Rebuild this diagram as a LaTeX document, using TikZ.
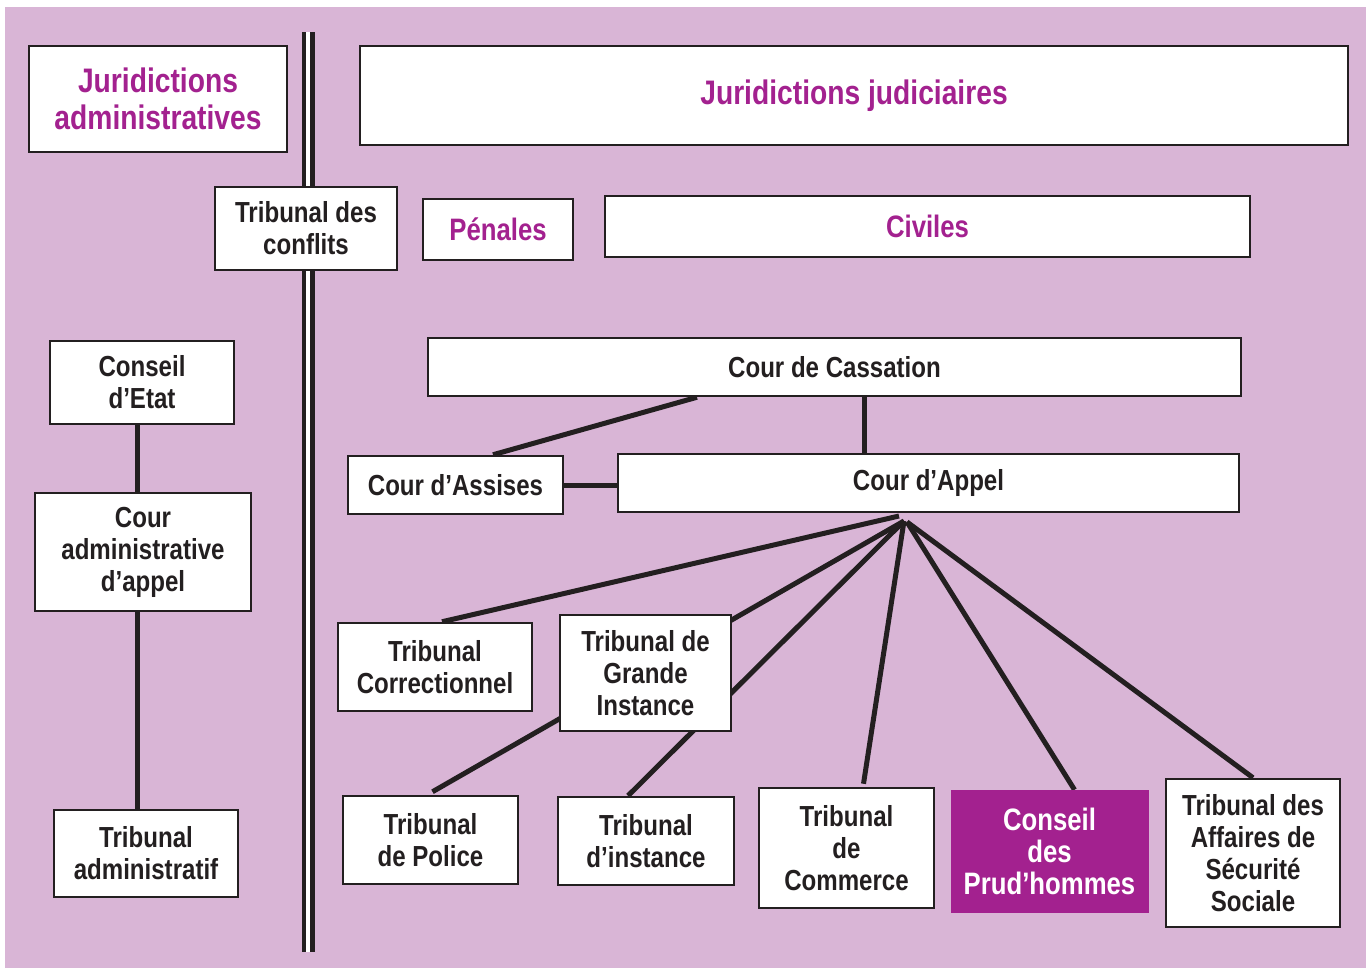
\documentclass[tikz,border=0pt]{standalone}
\usepackage{fontspec}
\newfontfamily\nar{Liberation Sans}[FakeStretch=0.83]
\definecolor{bgpurple}{RGB}{217,181,214}
\definecolor{mag}{RGB}{163,33,143}
\definecolor{ink}{RGB}{35,31,32}
\pgfdeclarelayer{bg}
\pgfdeclarelayer{lines}
\pgfsetlayers{bg,lines,main}
\tikzset{
  box/.style={draw=ink, fill=white, line width=2.5pt, align=center, inner sep=0pt,
    font=\nar\bfseries\fontsize{29}{32}\selectfont, text=ink},
  titlebox/.style={box, text=mag, font=\nar\bfseries\fontsize{34}{37}\selectfont},
  subbox/.style={box, text=mag, font=\nar\bfseries\fontsize{31}{34}\selectfont},
  hotbox/.style={box, draw=mag, fill=mag, text=white, line width=0.5pt,
    font=\nar\bfseries\fontsize{31}{32}\selectfont},
  link/.style={draw=ink, line width=5pt},
}
\newcommand{\bx}[6]{\node[#1, minimum width=#4pt, minimum height=#5pt] (#2) at (#3) {#6};}
\begin{document}
\begin{tikzpicture}[x=1pt,y=-1pt]
\useasboundingbox (0,0) rectangle (1366,969);
\begin{pgfonlayer}{bg}
  \fill[bgpurple] (5,7) rectangle (1366,968);
  \coordinate (sepT) at (308.5,32);
  \coordinate (sepB) at (308.5,952);
  \draw[ink, line width=13pt] (sepT) -- (sepB);
  \draw[white, line width=3.5pt] ([xshift=-0.3pt]sepT) -- ([xshift=-0.3pt]sepB);
\end{pgfonlayer}

% nodes
\bx{titlebox}{jadm}{158,99}{258}{106}{Juridictions\\administratives}
\bx{titlebox}{jjud}{854,95.5}{988}{99}{Juridictions judiciaires}
\bx{box}{conflits}{306,228.5}{182}{83}{Tribunal des\\conflits}
\bx{subbox}{penales}{498,229.5}{150}{61}{Pénales}
\bx{subbox}{civiles}{927.5,226.5}{645}{61}{Civiles}
\bx{box}{etat}{142,382.5}{184}{83}{Conseil\\d’Etat}
\bx{box}{caa}{143,552}{216}{118}{Cour\\administrative\\d’appel}
\bx{box}{ta}{146,853.5}{184}{87}{Tribunal\\administratif}
\bx{box}{cass}{834.5,367}{813}{58}{Cour de Cassation}
\bx{box}{assises}{455.5,485}{215}{58}{Cour d’Assises}
\bx{box}{appel}{928.5,483}{621}{58}{Cour d’Appel}
\bx{box}{corr}{435,667}{194}{88}{Tribunal\\Correctionnel}
\bx{box}{tgi}{645.5,673}{171}{116}{Tribunal de\\Grande\\Instance}
\bx{box}{police}{430.5,840}{175}{88}{Tribunal\\de Police}
\bx{box}{instance}{646,841}{176}{88}{Tribunal\\d’instance}
\bx{box}{commerce}{846.5,848}{175}{120}{Tribunal\\de\\Commerce}
\bx{hotbox}{prud}{1049.5,851}{197}{122}{Conseil\\des\\Prud’hommes}
\bx{box}{tass}{1253,853}{174}{148}{Tribunal des\\Affaires de\\Sécurité\\Sociale}

\begin{pgfonlayer}{lines}
  \draw[link] ([xshift=-5pt]etat.south) -- ([xshift=-5pt]etat.south |- caa.north);
  \draw[link] ([xshift=-6pt]caa.south) -- ([xshift=-6pt]caa.south |- ta.north);
  \draw[link] ([xshift=-137.5pt]cass.south) -- ([xshift=37.5pt]assises.north);
  \draw[link] ([xshift=29.5pt]cass.south) -- ([xshift=29.5pt]cass.south |- appel.north);
  \draw[link] (assises.east) -- (assises.east -| appel.west);
  \coordinate (F0) at (899,516);
  \coordinate (F) at (904,521);
  \coordinate (F2) at (907,522);
  \draw[link] (F0) -- ([xshift=7pt]corr.north);
  \draw[link] (F) -- ([xshift=2pt,yshift=3pt]police.north);
  \draw[link] (F) -- ([xshift=-18pt]instance.north);
  \draw[link] (F) -- ([xshift=17pt,yshift=3pt]commerce.north);
  \draw[link] (F2) -- ([xshift=25pt]prud.north);
  \draw[link] (F2) -- (tass.north);
\end{pgfonlayer}
\end{tikzpicture}
\end{document}
